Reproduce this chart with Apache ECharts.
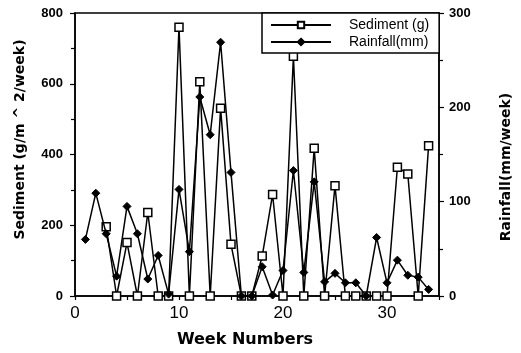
<!DOCTYPE html>
<html>
<head>
<meta charset="utf-8">
<script src="https://cdn.jsdelivr.net/npm/echarts@6/dist/echarts.min.js"></script>
<style>html,body{margin:0;padding:0;background:#fff}#c{width:521px;height:353px}</style>
</head>
<body>
<div id="c"></div>
<script>
var weeks = [1,2,3,4,5,6,7,8,9,10,11,12,13,14,15,16,17,18,19,20,21,22,23,24,25,26,27,28,29,30,31,32,33,34];
var sediment = [null,null,196,0,151,0,236,0,0,760,0,606,0,531,146,0,0,113,287,0,678,0,418,0,312,0,0,0,0,0,364,345,0,425];
var rainfall = [60,109,66,21,95,66,18,43,2,113,47,211,171,269,131,0,0,31,1,27,133,25,121,15,24,14,14,0,62,14,38,22,20,7];
var leftTicks = [0,200,400,600,800];
var rightTicks = [0,100,200,300];
var xTicks = [0,10,20,30];

function pairs(v){ return weeks.map(function(w,i){ return [w, v[i]]; }); }

var FONT = 'Liberation Sans';
var BOLD = 'DejaVu Sans';
var chart = echarts.init(document.getElementById('c'), null, {renderer:'canvas'});
chart.setOption({
  animation:false,
  backgroundColor:'#fff',
  grid:{left:75,right:77,top:13,bottom:55,show:true,borderColor:'#000',borderWidth:1.5,backgroundColor:'transparent'},
  legend:{
    orient:'vertical', left:262, top:13, align:'left',
    backgroundColor:'#fff', borderColor:'#000', borderWidth:1.5,
    padding:[5,10,4,8], itemWidth:60, itemHeight:8, itemGap:3,
    textStyle:{fontFamily:FONT,fontSize:14,color:'#000',padding:[0,0,0,13]},
    data:['Sediment (g)','Rainfall(mm)']
  },
  xAxis:{
    type:'value', min:0, max:35, interval:10,
    name:'Week Numbers', nameLocation:'middle', nameGap:36,
    nameTextStyle:{fontFamily:BOLD,fontSize:16,fontWeight:'bold',color:'#000',padding:[0,24,0,0]},
    axisLine:{lineStyle:{color:'#000',width:1.5}},
    axisTick:{show:true,length:4,lineStyle:{color:'#000',width:1.2}},
    minorTick:{show:true,splitNumber:2,length:4,lineStyle:{color:'#000',width:1.2}},
    axisLabel:{fontFamily:FONT,fontSize:17,color:'#000',margin:9,
      formatter:function(v){return xTicks.indexOf(v)>=0?String(v):'';}},
    splitLine:{show:false}
  },
  yAxis:[{
    type:'value', min:0, max:800, interval:200,
    name:'Sediment (g/m ^ 2/week)', nameLocation:'middle', nameGap:48, nameRotate:90,
    nameTextStyle:{fontFamily:BOLD,fontSize:14,fontWeight:'bold',color:'#000',padding:[0,0,0,30]},
    axisLine:{show:true,lineStyle:{color:'#000',width:1.5}},
    axisTick:{show:true,length:5,lineStyle:{color:'#000',width:1.2}},
    minorTick:{show:true,splitNumber:2,length:4,lineStyle:{color:'#000',width:1.2}},
    axisLabel:{fontFamily:FONT,fontSize:13,fontWeight:'bold',color:'#000',margin:12,
      formatter:function(v){return leftTicks.indexOf(v)>=0?String(v):'';}},
    splitLine:{show:false}
  },{
    type:'value', min:0, max:300, interval:100, position:'right',
    name:'Rainfall(mm/week)', nameLocation:'middle', nameGap:60, nameRotate:90,
    nameTextStyle:{fontFamily:BOLD,fontSize:14,fontWeight:'bold',color:'#000',padding:[0,25,0,0]},
    axisLine:{show:true,lineStyle:{color:'#000',width:1.5}},
    axisTick:{show:true,length:5,lineStyle:{color:'#000',width:1.2}},
    minorTick:{show:true,splitNumber:2,length:4,lineStyle:{color:'#000',width:1.2}},
    axisLabel:{fontFamily:FONT,fontSize:13,fontWeight:'bold',color:'#000',margin:10,
      formatter:function(v){return rightTicks.indexOf(v)>=0?String(v):'';}},
    splitLine:{show:false}
  }],
  series:[{
    name:'Sediment (g)', type:'line', yAxisIndex:0, data:pairs(sediment),
    symbol:'rect', symbolSize:8, showAllSymbol:true, connectNulls:false,
    lineStyle:{color:'#000',width:1.5},
    itemStyle:{color:'#fff',borderColor:'#000',borderWidth:1.5},
    z:2
  },{
    name:'Rainfall(mm)', type:'line', yAxisIndex:1, data:pairs(rainfall),
    symbol:'diamond', symbolSize:8, showAllSymbol:true,
    lineStyle:{color:'#000',width:1.5},
    itemStyle:{color:'#000',borderColor:'#000',borderWidth:1},
    z:3
  }]
});
</script>
</body>
</html>
